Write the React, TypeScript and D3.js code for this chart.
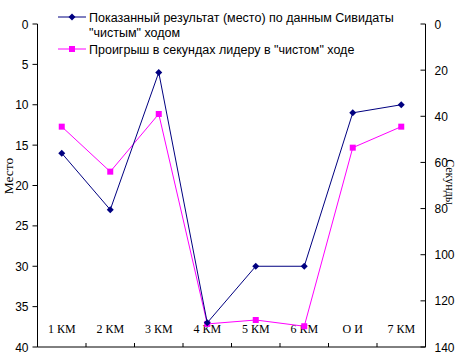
import React from "react";
import * as d3 from "d3";

const categories = ["1 КМ", "2 КМ", "3 КМ", "4 КМ", "5 КМ", "6 КМ", "О И", "7 КМ"];
const placeValues = [16, 23, 6, 37, 30, 30, 11, 10];
const secondsValues = [44.5, 64, 39, 130, 128.3, 131, 53.6, 44.5];
const leftTicks = [0, 5, 10, 15, 20, 25, 30, 35, 40];
const rightTicks = [0, 20, 40, 60, 80, 100, 120, 140];
const legend1a = "Показанный результат (место) по данным Сивидаты";
const legend1b = "\"чистым\" ходом";
const legend2 = "Проигрыш в секундах лидеру в \"чистом\" ходе";

const W = 459, H = 356;
const L = 37.5, R = 425.5, T = 24, B = 347;
const sans = "'Liberation Sans', Arial, sans-serif";
const serif = "'Liberation Serif', 'Times New Roman', serif";

export default function App() {
  const x = d3.scaleBand<string>().domain(categories).range([L, R]);
  const yL = d3.scaleLinear().domain([0, 40]).range([T, B]);
  const yR = d3.scaleLinear().domain([0, 140]).range([T, B]);
  const cx = (c: string) => (x(c) as number) + x.bandwidth() / 2;
  const line1 = d3.line<number>().x((_, i) => cx(categories[i])).y((d) => yL(d));
  const line2 = d3.line<number>().x((_, i) => cx(categories[i])).y((d) => yR(d));
  const blue = "#000080", pink = "#FF00FF";
  return (
    <svg width={W} height={H} style={{ position: "absolute", left: 0, top: 0, background: "#fff" }}>
      <rect width={W} height={H} fill="#fff" />
      {/* axes */}
      <line x1={L} y1={T} x2={L} y2={B} stroke="#000" />
      <line x1={R} y1={T} x2={R} y2={B} stroke="#000" />
      <line x1={L} y1={B} x2={R} y2={B} stroke="#000" />
      {leftTicks.map((t) => (
        <g key={"l" + t}>
          <line x1={L - 5} x2={L} y1={yL(t)} y2={yL(t)} stroke="#000" />
          <text x={L - 9} y={yL(t) + 4.5} textAnchor="end" fontFamily={sans} fontSize={12}>{t}</text>
        </g>
      ))}
      {rightTicks.map((t) => (
        <g key={"r" + t}>
          <line x1={R - 5} x2={R} y1={yR(t)} y2={yR(t)} stroke="#000" />
          <text x={R + 9} y={yR(t) + 4.5} textAnchor="start" fontFamily={sans} fontSize={12}>{t}</text>
        </g>
      ))}
      {categories.slice(1).map((c) => (
        <line key={"b" + c} x1={x(c)} x2={x(c)} y1={B - 4} y2={B} stroke="#000" />
      ))}
      {categories.map((c) => (
        <text key={"c" + c} x={cx(c)} y={333} textAnchor="middle" fontFamily={serif} fontSize={12}>{c}</text>
      ))}
      <text transform={`translate(13,176) rotate(-90)`} textAnchor="middle" fontFamily={serif} fontSize={13.5}>Место</text>
      <text transform={`translate(446,182) rotate(90)`} textAnchor="middle" fontFamily={serif} fontSize={12}>Секунды</text>
      {/* series */}
      <path d={line2(secondsValues) || ""} fill="none" stroke={pink} strokeWidth={1} />
      {secondsValues.map((v, i) => (
        <rect key={"s" + i} x={cx(categories[i]) - 3} y={yR(v) - 3} width={6} height={6} fill={pink} />
      ))}
      <path d={line1(placeValues) || ""} fill="none" stroke={blue} strokeWidth={1} />
      {placeValues.map((v, i) => (
        <path key={"p" + i} transform={`translate(${cx(categories[i])},${yL(v)})`} d="M0,-3.5L3.5,0L0,3.5L-3.5,0Z" fill={blue} />
      ))}
      {/* legend */}
      <line x1={58} x2={86} y1={17} y2={17} stroke={blue} />
      <path transform="translate(72,17)" d="M0,-3.5L3.5,0L0,3.5L-3.5,0Z" fill={blue} />
      <text x={89} y={21.5} fontFamily={sans} fontSize={12.5}>{legend1a}</text>
      <text x={89} y={36.5} fontFamily={sans} fontSize={12.5}>{legend1b}</text>
      <line x1={58} x2={86} y1={49} y2={49} stroke={pink} />
      <rect x={69} y={46} width={6} height={6} fill={pink} />
      <text x={89} y={53.5} fontFamily={sans} fontSize={12.5}>{legend2}</text>
    </svg>
  );
}
